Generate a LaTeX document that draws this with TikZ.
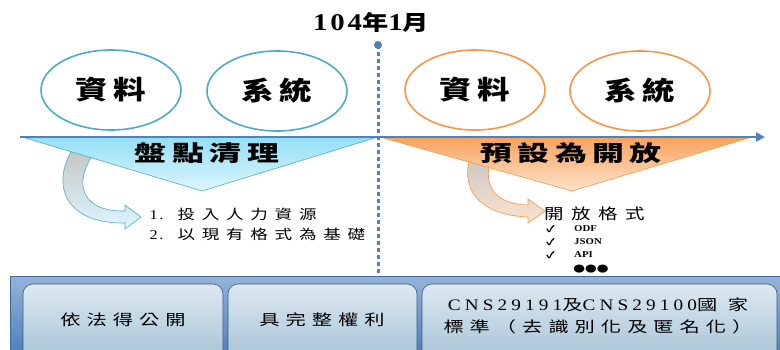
\documentclass[tikz,border=0pt]{standalone}
\usepackage{fontspec}
\setmainfont{Liberation Serif}[FakeStretch=1.2]
\newfontfamily\latsp[FakeStretch=1.2,LetterSpace=12]{Liberation Serif}
\newfontfamily\latbox[FakeStretch=1.2,LetterSpace=26]{Liberation Serif}
\newfontfamily\cjk[FakeStretch=1.3]{Noto Sans CJK TC}
\newfontfamily\cjkoval[FakeStretch=1.25,LetterSpace=22]{Noto Sans CJK TC}
\newfontfamily\cjkphase[FakeStretch=1.45,LetterSpace=25]{Noto Sans CJK TC}
\newfontfamily\cjkbox[FakeStretch=1.35,LetterSpace=40]{Noto Sans CJK TC}
\newfontfamily\cjklist[FakeStretch=1.3,LetterSpace=50]{Noto Sans CJK TC}
\usetikzlibrary{shapes.geometric,arrows.meta}

\definecolor{axisblue}{HTML}{4F81BD}
\definecolor{tealline}{HTML}{4BACC6}
\definecolor{orangeline}{HTML}{F79646}
\definecolor{cyantop}{HTML}{93DFF5}
\definecolor{cyanbot}{HTML}{DDF6FD}
\definecolor{orangetop}{HTML}{F8A25C}
\definecolor{orangebot}{HTML}{FDE3CC}
\definecolor{boxtop}{HTML}{DDE8F0}
\definecolor{boxbot}{HTML}{A7C3D6}

\tikzset{
  oval/.style={ellipse, draw, line width=1.6pt, minimum width=140pt, minimum height=80pt,
    font=\cjkoval\bfseries\fontsize{26}{26}\selectfont},
  phase/.style={font=\cjkphase\bfseries\fontsize{22}{22}\selectfont},
  basebox/.style={draw=axisblue!70!black, line width=0.6pt, rounded corners=10pt,
    top color=boxtop, bottom color=boxbot},
  boxtext/.style={font=\cjkbox\fontsize{15}{22}\selectfont, align=center},
  listtext/.style={font=\cjklist\fontsize{13.5}{20}\selectfont, align=left, anchor=west},
  small/.style={font=\bfseries\fontsize{9}{9}\selectfont, anchor=west, inner sep=0pt}
}

\begin{document}
\begin{tikzpicture}[x=1pt, y=-1pt]
    \useasboundingbox (0,0) rectangle (780,349);

    % Date marker
    \node[font=\latsp\bfseries\fontsize{24}{24}\selectfont] (date) at (371,22) {104{\cjkoval\bfseries\fontsize{21}{21}\selectfont 年}1{\cjkoval\bfseries\fontsize{21}{21}\selectfont 月}};
    \coordinate (top) at (378,45);
    \coordinate (bottom) at (378,278);
    \draw[axisblue, line width=3pt, dash pattern=on 4pt off 3pt] (top) -- (bottom);
    \fill[axisblue] (top) circle (4pt);

    % Ellipses
    \node[oval, draw=tealline] (data1) at (111,90) {資料};
    \node[oval, draw=tealline] (sys1) at (277,91) {系統};
    \node[oval, draw=orangeline] (data2) at (475,90) {資料};
    \node[oval, draw=orangeline] (sys2) at (640,91) {系統};

    % Curved arrows
    \path[draw=tealline, line width=0.6pt, top color=gray!45, bottom color=cyanbot]
        (72,150) .. controls (50,188) and (68,224) .. (125,223) -- (125,229) -- (141,217)
        -- (125,205) -- (125,211) .. controls (84,212) and (70,186) .. (96,150) -- cycle;
    \path[draw=orangeline, line width=0.6pt, top color=gray!45, bottom color=orangebot]
        (472,152) .. controls (458,188) and (478,215) .. (528,217) -- (528,223) -- (545,211)
        -- (528,199) -- (528,205) .. controls (495,204) and (480,186) .. (493,152) -- cycle;

    % Phase triangles
    \path[draw=tealline, line width=0.6pt, top color=cyantop, bottom color=cyanbot]
        (22,137) -- (378,137) -- (202,191) -- cycle;
    \path[draw=orangeline, line width=0.6pt, top color=orangetop, bottom color=orangebot]
        (380,137) -- (752,137) -- (572,191) -- cycle;
    \node[phase] (clean) at (207,153) {盤點清理};
    \node[phase] (open) at (571,153) {預設為開放};

    % Time axis
    \coordinate (start) at (20,137);
    \coordinate (end) at (765,137);
    \draw[axisblue, line width=2.5pt, -{Triangle[length=9pt,width=9pt]}] (start) -- (end);

    % Step texts
    \node[listtext] (steps) at (146,224) {{\latsp 1.} 投入人力資源\\{\latsp 2.} 以現有格式為基礎};
    \node[font=\cjklist\fontsize{15}{15}\selectfont, anchor=west, inner sep=0pt] (formats) at (544,214) {開放格式};
    \node[small] (chk1) at (546,229) {{\cjk ✓}};
    \node[small] (odf) at (574,229) {ODF};
    \node[small] (chk2) at (546,242) {{\cjk ✓}};
    \node[small] (json) at (574,242) {JSON};
    \node[small] (chk3) at (546,255) {{\cjk ✓}};
    \node[small] (api) at (574,255) {API};
    \node[font=\fontsize{9}{9}\selectfont, inner sep=0pt] (more) at (591,269) {{\cjk ●●●}};

    % Base bar
    \path[top color=axisblue!60, bottom color=axisblue, draw=axisblue!80!black]
        (10,276) rectangle (782,352);
    \path[basebox] (23,284) rectangle (223,360);
    \path[basebox] (228,284) rectangle (417,360);
    \path[basebox] (422,284) rectangle (777,360);
    \node[boxtext] (law) at (123,320) {依法得公開};
    \node[boxtext] (right) at (322,320) {具完整權利};
    \node[boxtext] (cns) at (598,316) {{\latbox\fontsize{16}{16}\selectfont CNS29191}及{\latbox\fontsize{16}{16}\selectfont CNS29100}國\ 家\\標準（去識別化及匿名化）};
\end{tikzpicture}
\end{document}
